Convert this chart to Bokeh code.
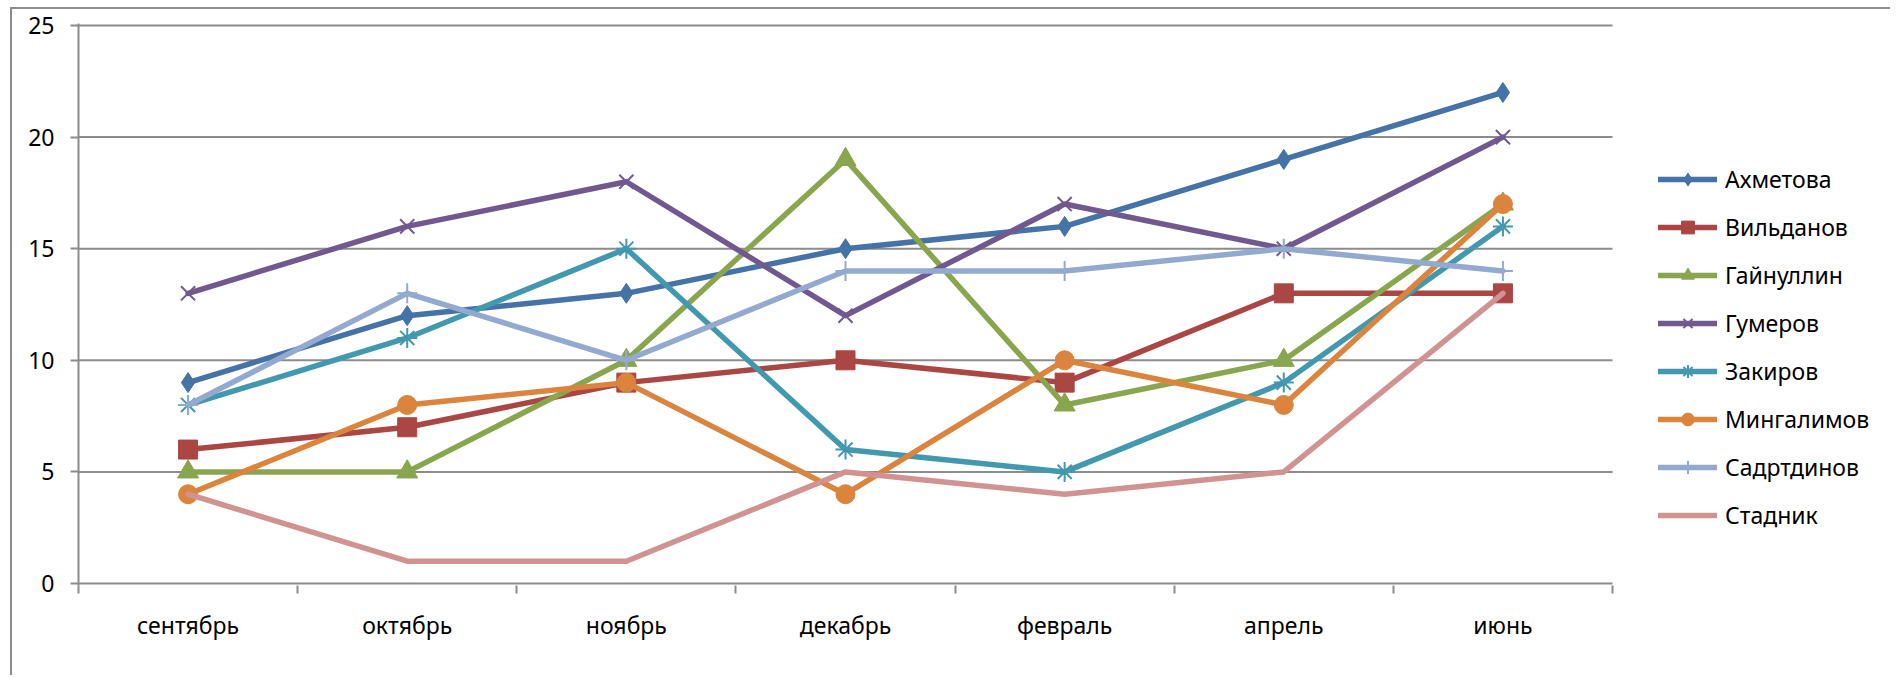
from bokeh.plotting import figure
from bokeh.models import FixedTicker, Legend, LegendItem, CustomJSTickFormatter
from bokeh.embed import file_html
from bokeh.resources import INLINE

months = ["сентябрь", "октябрь", "ноябрь", "декабрь", "февраль", "апрель", "июнь"]
names = ["Ахметова", "Вильданов", "Гайнуллин", "Гумеров", "Закиров",
         "Мингалимов", "Садртдинов", "Стадник"]

akhmetova = [9, 12, 13, 15, 16, 19, 22]
vildanov = [6, 7, 9, 10, 9, 13, 13]
gaynullin = [5, 5, 10, 19, 8, 10, 17]
gumerov = [13, 16, 18, 12, 17, 15, 20]
zakirov = [8, 11, 15, 6, 5, 9, 16]
mingalimov = [4, 8, 9, 4, 10, 8, 17]
sadrtdinov = [8, 13, 10, 14, 14, 15, 14]
stadnik = [4, 1, 1, 5, 4, 5, 13]

y_ticks = [0, 5, 10, 15, 20, 25]

series = [akhmetova, vildanov, gaynullin, gumerov, zakirov, mingalimov, sadrtdinov, stadnik]
colors = ["#4572A7", "#AA4643", "#89A54E", "#71588F", "#4198AF", "#DB843D", "#93A9CF", "#D19392"]
markers = [
    dict(marker="diamond", size=20, line_width=1),
    dict(marker="square", size=19, line_width=1),
    dict(marker="triangle", size=21, line_width=1),
    dict(marker="x", size=20, line_width=2),
    dict(marker="asterisk", size=20, line_width=2),
    dict(marker="circle", size=19, line_width=1),
    dict(marker="cross", size=20, line_width=2),
    None,
]

FONT = "Noto Sans"
GRID = "#8c8c8c"

# layout (pixels)
FIG_W, FIG_H = 1880, 668
LEFT, TOP, BOTTOM = 66, 14, 92
PLOT_PX = 1534          # width occupied by the 7 categories
PAD_PX = 2
ymax = y_ticks[-1]
frame_h = FIG_H - TOP - BOTTOM
px_per_unit = (frame_h - 2 * PAD_PX) / ymax
pad = PAD_PX / px_per_unit
ncat = len(months)
x_end = ncat * (FIG_W - LEFT) / PLOT_PX

xs = [i + 0.5 for i in range(ncat)]

p = figure(width=FIG_W, height=FIG_H, x_range=(0, x_end), y_range=(-pad, ymax + pad),
           output_backend="svg", toolbar_location=None,
           min_border_left=LEFT, min_border_right=0,
           min_border_top=TOP, min_border_bottom=BOTTOM)
p.outline_line_color = None
p.background_fill_color = "white"
p.border_fill_color = "white"
p.styles = {"margin-left": "10px", "margin-top": "7px",
            "border-left": "2px solid #8c8c8c", "border-top": "2px solid #8c8c8c"}

p.xgrid.visible = False
p.ygrid.visible = False
p.segment(x0=[0] * len(y_ticks), x1=[ncat] * len(y_ticks), y0=y_ticks, y1=y_ticks,
          line_color=GRID, line_width=2)

p.yaxis.ticker = FixedTicker(ticks=y_ticks)
p.yaxis.axis_line_color = GRID
p.yaxis.axis_line_width = 2
p.yaxis.major_tick_line_color = GRID
p.yaxis.major_tick_line_width = 2
p.yaxis.major_tick_out = 8
p.yaxis.major_tick_in = 0
p.yaxis.minor_tick_line_color = None
p.yaxis.major_label_standoff = 16
p.yaxis.major_label_text_font = FONT
p.yaxis.major_label_text_font_size = "23px"
p.yaxis.major_label_text_color = "black"

p.xaxis.ticker = FixedTicker(ticks=xs, minor_ticks=list(range(ncat + 1)))
p.xaxis.formatter = CustomJSTickFormatter(args=dict(labels=months),
                                          code="return labels[Math.floor(tick)] || '';")
p.xaxis.axis_line_color = None
p.xaxis.major_tick_line_color = None
p.xaxis.major_tick_out = 0
p.xaxis.major_tick_in = 0
p.xaxis.minor_tick_line_color = GRID
p.xaxis.minor_tick_line_width = 2
p.xaxis.minor_tick_out = 8
p.xaxis.minor_tick_in = 0
p.xaxis.major_label_standoff = 15
p.xaxis.major_label_text_font = FONT
p.xaxis.major_label_text_font_size = "23px"
p.xaxis.major_label_text_color = "black"

items = []
for name, ys, col, mk in zip(names, series, colors, markers):
    lr = p.line(xs, ys, line_color=col, line_width=5.5, line_join="round", line_cap="round")
    rs = [lr]
    if mk is not None:
        mr = p.scatter(xs, ys, marker=mk["marker"], size=mk["size"],
                       fill_color=col, line_color=col, line_width=mk["line_width"])
        rs.append(mr)
    items.append(LegendItem(label=name, renderers=rs))

legend = Legend(items=items, location=(1580, 54))
legend.glyph_width = 59
legend.glyph_height = 32
legend.label_height = 32
legend.label_standoff = 8
legend.spacing = 16
legend.padding = 0
legend.margin = 0
legend.border_line_color = None
legend.background_fill_alpha = 0
legend.label_text_font = FONT
legend.label_text_font_size = "23px"
legend.label_text_color = "black"
legend.label_text_baseline = "middle"
p.add_layout(legend, "center")

open("out.html", "w").write(file_html(p, INLINE))
